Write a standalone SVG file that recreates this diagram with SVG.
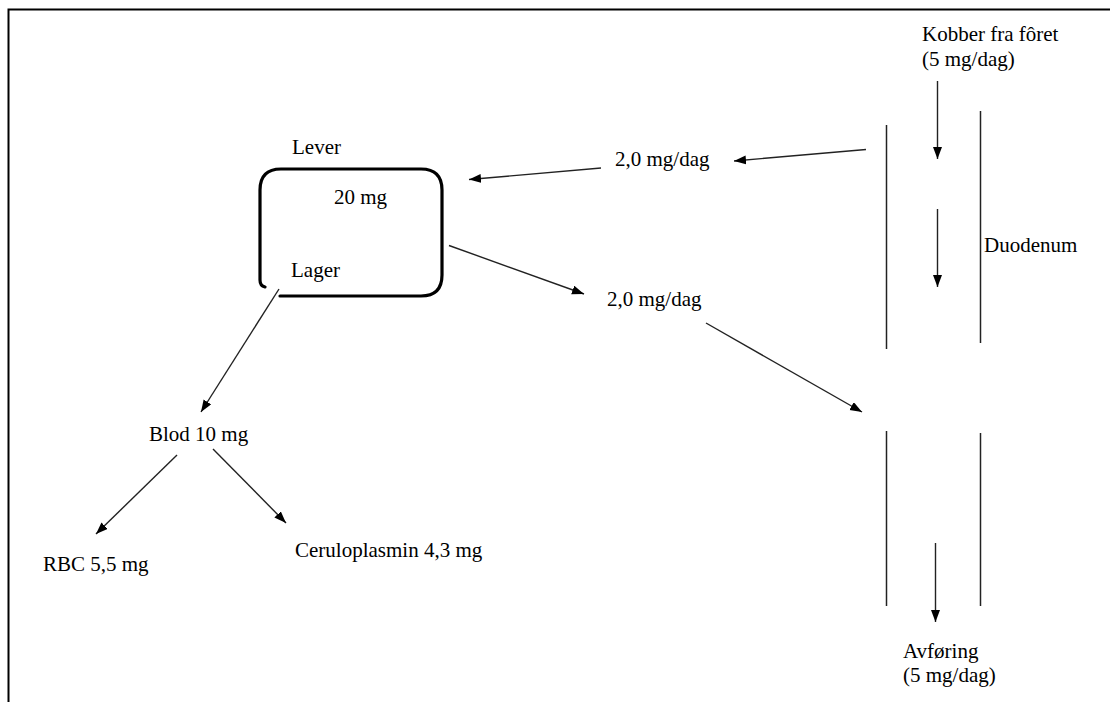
<svg xmlns="http://www.w3.org/2000/svg" width="1110" height="702" viewBox="0 0 1110 702" font-family="'Liberation Serif', 'DejaVu Serif', serif" font-size="21">
<style>
  text { font-family: Liberation Serif, DejaVu Serif, serif; font-size: 21px; fill: #000; }
  .conn { stroke: #222; stroke-width: 1.4; fill: none; marker-end: url(#ah); }
  .wall { stroke: #222; stroke-width: 1.5; fill: none; }
  .frame { stroke: #000; stroke-width: 2; fill: none; }
  .box { stroke: #000; stroke-width: 3.2; fill: none; stroke-linecap: round; }
</style>
<defs>
  <marker id="ah" markerUnits="userSpaceOnUse" markerWidth="14" markerHeight="10" refX="12" refY="4.5" orient="auto">
    <path d="M0,0 L12,4.5 L0,9 z" fill="#000"/>
  </marker>
</defs>
<rect width="1110" height="702" fill="#fff"/>
<path class="frame" d="M8.5,702 L8.5,9.5 L1110,9.5"/>

<g id="kobber">
  <text x="922" y="41" font-family="Liberation Serif">Kobber fra fôret</text>
  <text x="922" y="66" font-family="Liberation Serif">(5 mg/dag)</text>
</g>
<g id="lever">
  <text x="292" y="154" font-family="Liberation Serif">Lever</text>
  <path class="box" d="M280,296 L421,296 Q442,296 442,275 L442,190 Q442,169 421,169 L281,169 Q260,169 260,190 L260,280 Q260,286 265,287"/>
  <text x="334" y="204" font-family="Liberation Serif">20 mg</text>
  <text x="291" y="277" font-family="Liberation Serif">Lager</text>
</g>
<g id="label-in">
  <text x="615" y="166" font-family="Liberation Serif">2,0 mg/dag</text>
</g>
<g id="label-out">
  <text x="607" y="306" font-family="Liberation Serif">2,0 mg/dag</text>
</g>
<g id="duodenum">
  <line class="wall" x1="886.5" y1="125" x2="886.5" y2="349"/>
  <line class="wall" x1="980.5" y1="111" x2="980.5" y2="343"/>
  <line class="wall" x1="886.5" y1="431" x2="886.5" y2="606"/>
  <line class="wall" x1="980.5" y1="433" x2="980.5" y2="606"/>
  <text x="984" y="252" font-family="Liberation Serif">Duodenum</text>
</g>
<g id="blod">
  <text x="149" y="441" font-family="Liberation Serif">Blod 10 mg</text>
</g>
<g id="rbc">
  <text x="43" y="571" font-family="Liberation Serif">RBC 5,5 mg</text>
</g>
<g id="ceruloplasmin">
  <text x="295" y="557" font-family="Liberation Serif">Ceruloplasmin 4,3 mg</text>
</g>
<g id="avforing">
  <text x="903" y="658" font-family="Liberation Serif">Avføring</text>
  <text x="903" y="682" font-family="Liberation Serif">(5 mg/dag)</text>
</g>

<g id="connectors">
  <line class="conn" x1="937.5" y1="81" x2="937.5" y2="159"/>
  <line class="conn" x1="937.5" y1="209" x2="937.5" y2="287"/>
  <line class="conn" x1="935.5" y1="543" x2="935.5" y2="622"/>
  <line class="conn" x1="866" y1="149.5" x2="734" y2="161"/>
  <line class="conn" x1="601" y1="168" x2="469" y2="179.5"/>
  <line class="conn" x1="449" y1="245.5" x2="584" y2="294"/>
  <line class="conn" x1="706" y1="323" x2="862" y2="412"/>
  <line class="conn" x1="279" y1="289" x2="201" y2="412"/>
  <line class="conn" x1="177" y1="455" x2="96" y2="534"/>
  <line class="conn" x1="213" y1="449" x2="286" y2="523"/>
</g>
</svg>
